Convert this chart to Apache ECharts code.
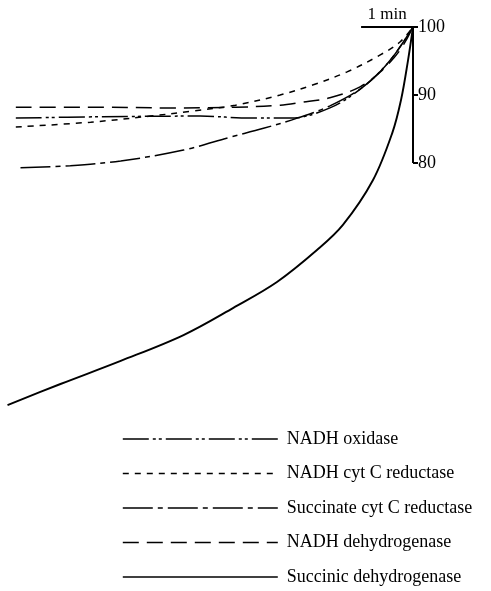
<!DOCTYPE html>
<html><head><meta charset="utf-8">
<script src="https://cdn.jsdelivr.net/npm/echarts@6/dist/echarts.min.js"></script>
<style>html,body{margin:0;padding:0;background:#fff}#c{width:491px;height:591px}</style>
</head><body><div id="c"></div>
<script>
// time (min, counted leftwards from the 100% point) and remaining activity (%)
const seriesNames = ['NADH oxidase','NADH cyt C reductase','Succinate cyt C reductase','NADH dehydrogenase','Succinic dehydrogenase'];
const nadhOxidase = [[7.65,86.6],[6.02,86.8],[4.1,86.9],[3.13,86.6],[2.37,86.6],[1.6,88.1],[0.96,91.2],[0.44,95.1],[0,100]];
const nadhCytC = [[7.65,85.3],[6.21,86.0],[5.06,86.9],[4.29,87.6],[3.42,88.5],[2.56,90.0],[1.92,91.5],[1.27,93.4],[0.63,95.9],[0.25,97.8],[0,100]];
const succCytC = [[7.56,79.3],[6.6,79.6],[5.63,80.3],[4.42,81.9],[3.52,83.8],[2.88,85.1],[2.23,86.6],[1.6,88.4],[0.96,91.2],[0.44,95.1],[0,100]];
const nadhDH = [[7.65,88.2],[6.02,88.2],[4.67,88.1],[3.42,88.2],[2.56,88.5],[2.17,88.9],[1.6,89.6],[1.02,91.2],[0.63,93.4],[0.25,96.6],[0,100]];
const succinicDH = [[7.81,44.4],[6.79,47.5],[5.63,50.9],[4.42,54.7],[3.46,58.7],[2.62,62.5],[1.85,67.2],[1.35,70.9],[0.77,77.5],[0.4,84.4],[0.23,89.3],[0.096,95.1],[0,100]];
const yTicks = [80, 90, 100];
const axisSpan = [[0,80],[0,100]];
const scaleBar = [[1,100],[0,100]];
const scaleLabel = '1 min';

const FONT = 'Liberation Serif';
const chart = echarts.init(document.getElementById('c'), null, {renderer:'canvas'});
function curve(name, data, type, width) {
  return {name, type:'line', data, symbol:'none', showSymbol:false, smooth:0.35, clip:false,
    lineStyle:{color:'#000', width:width, type:type}, itemStyle:{color:'#000'}, silent:true, animation:false};
}
const option = {
  animation:false,
  backgroundColor:'#fff',
  grid:{left:7, right:78, top:27, bottom:156},
  xAxis:{type:'value', min:0, max:7.82, inverse:true, show:false},
  yAxis:{type:'value', min:40, max:100, position:'right',
    axisLine:{show:false}, splitLine:{show:false},
    axisTick:{show:true, customValues:yTicks, length:5, lineStyle:{color:'#000', width:2}},
    axisLabel:{customValues:yTicks, margin:5, color:'#000', fontFamily:FONT, fontSize:18}},
  legend:{data:seriesNames, orient:'vertical', left:122, top:430, height:200, padding:0,
    itemWidth:155, itemHeight:14, itemGap:16.5, selectedMode:false,
    itemStyle:{opacity:0}, lineStyle:{width:1.6},
    textStyle:{color:'#000', fontFamily:FONT, fontSize:18, padding:[0,0,0,4]}},
  series:[
    curve(seriesNames[0], nadhOxidase, [26,4,3,3,3,4], 1.5),
    curve(seriesNames[1], nadhCytC, [6,6], 1.5),
    curve(seriesNames[2], succCytC, [30,5,5,5], 1.5),
    curve(seriesNames[3], nadhDH, [16,8], 1.5),
    curve(seriesNames[4], succinicDH, 'solid', 1.9),
    {name:'axis', type:'line', data:axisSpan, symbol:'none', clip:false, silent:true, lineStyle:{color:'#000', width:2}},
    {name:'scale', type:'line', data:scaleBar, symbol:'none', clip:false, silent:true, lineStyle:{color:'#000', width:2}}
  ]
};
chart.setOption(option);
const mid = chart.convertToPixel({gridIndex:0}, [(scaleBar[0][0]+scaleBar[1][0])/2, scaleBar[0][1]]);
chart.setOption({graphic:[{type:'text', x:mid[0], y:mid[1]-4, style:{text:scaleLabel, align:'center', verticalAlign:'bottom', fill:'#000', font:'17px "Liberation Serif"'}}]});
</script></body></html>
